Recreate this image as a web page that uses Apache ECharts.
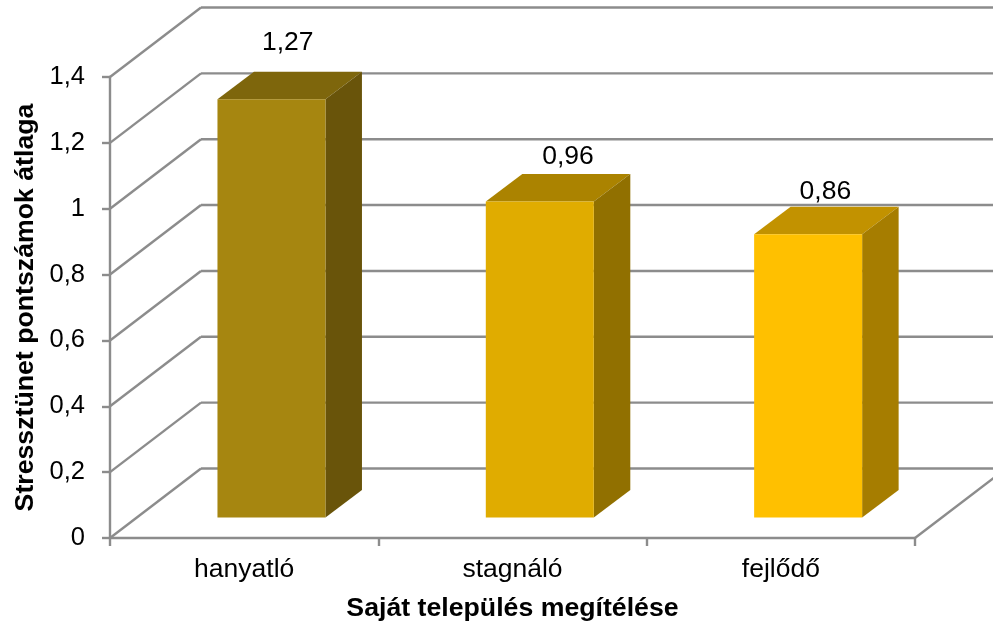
<!DOCTYPE html>
<html><head><meta charset="utf-8">
<style>html,body{margin:0;padding:0;background:#fff}#c{width:993px;height:621px}</style>
<script src="https://cdn.jsdelivr.net/npm/echarts@6/dist/echarts.min.js"></script>
</head><body><div id="c"></div>
<script>
const categories = ['hanyatló', 'stagnáló', 'fejlődő'];
const values = [1.27, 0.96, 0.86];
const yTicks = [0, 0.2, 0.4, 0.6, 0.8, 1, 1.2, 1.4];
const yTitle = 'Stressztünet pontszámok átlaga';
const xTitle = 'Saját település megítélése';

const frontColors = ['#A68610', '#E0AC00', '#FFC000'];
const topColors   = ['#7E660C', '#AB8300', '#C29200'];
const sideColors  = ['#69540A', '#917000', '#A67D00'];
const labelNudge  = [[-2, -11], [10, 1], [-1, 3]];
const GRID = '#8C8C8C', INK = '#000', FONT = '"Liberation Sans", Arial, sans-serif';
const WALL = [91, -69.5], BAR_OFF = [27.3, -20.5], BAR_DEPTH = [36.5, -27.5], BAR_W = 108;
const LW = 2.4;

const chart = echarts.init(document.getElementById('c'), null, {renderer: 'canvas'});
const line = (x1, y1, x2, y2) => ({type: 'line', shape: {x1, y1, x2, y2}, style: {stroke: GRID, lineWidth: LW}, silent: true});
const poly = (points, fill) => ({type: 'polygon', shape: {points}, style: {fill}, silent: true});

chart.setOption({
  animation: false,
  backgroundColor: '#fff',
  grid: {left: 110, right: 78, top: 77, bottom: 83, containLabel: false, outerBoundsMode: 'none'},
  xAxis: {
    type: 'category', data: categories, boundaryGap: true,
    name: xTitle, nameLocation: 'middle', nameGap: 57,
    nameTextStyle: {fontFamily: FONT, fontSize: 26.7, fontWeight: 'bold', color: INK},
    axisLine: {lineStyle: {color: GRID, width: LW}},
    axisTick: {show: true, alignWithLabel: false, length: 8, lineStyle: {color: GRID, width: LW}},
    axisLabel: {fontFamily: FONT, fontSize: 26.5, color: INK, margin: 18, interval: 0}
  },
  yAxis: {
    type: 'value', min: 0, max: 1.4, interval: 0.2,
    name: yTitle, nameLocation: 'middle', nameGap: 71, nameRotate: 90,
    nameTextStyle: {fontFamily: FONT, fontSize: 26.7, fontWeight: 'bold', color: INK},
    axisLine: {show: true, lineStyle: {color: GRID, width: LW}},
    axisTick: {show: true, length: 8, lineStyle: {color: GRID, width: LW}},
    splitLine: {show: false},
    axisLabel: {fontFamily: FONT, fontSize: 25.5, color: INK, margin: 25, padding: [3, 0, 0, 0],
      formatter: v => String(v).replace('.', ',')}
  },
  series: [
    {
      type: 'custom', coordinateSystem: 'cartesian2d', clip: false, z: 1,
      data: yTicks.map(v => [0, v]),
      renderItem(params, api) {
        const v = api.value(1);
        const a = api.coord([0, v]);
        const left = params.coordSys.x, right = left + params.coordSys.width;
        const kids = [
          line(left, a[1], left + WALL[0], a[1] + WALL[1]),
          line(left + WALL[0], a[1] + WALL[1], right + WALL[0], a[1] + WALL[1])
        ];
        if (v === 0) kids.push(line(right, a[1], right + WALL[0], a[1] + WALL[1]));
        return {type: 'group', children: kids};
      }
    },
    {
      type: 'custom', coordinateSystem: 'cartesian2d', clip: false, z: 3,
      data: values.map((v, i) => [i, v]),
      encode: {x: 0, y: 1},
      renderItem(params, api) {
        const i = api.value(0), v = api.value(1);
        const cx = api.coord([i, 0])[0] + BAR_OFF[0];
        const y0 = api.coord([i, 0])[1] + BAR_OFF[1];
        const y1 = api.coord([i, v])[1] + BAR_OFF[1];
        const l = cx - BAR_W / 2, r = cx + BAR_W / 2;
        const dx = BAR_DEPTH[0], dy = BAR_DEPTH[1];
        return {type: 'group', children: [
          poly([[l, y1], [r, y1], [r + dx, y1 + dy], [l + dx, y1 + dy]], topColors[i]),
          poly([[r, y1], [r + dx, y1 + dy], [r + dx, y0 + dy], [r, y0]], sideColors[i]),
          poly([[l, y1], [r, y1], [r, y0], [l, y0]], frontColors[i]),
          {type: 'text', silent: true, style: {
            text: String(v).replace('.', ','),
            x: cx + dx / 2 + labelNudge[i][0], y: y1 + dy - 18 + labelNudge[i][1],
            align: 'center', verticalAlign: 'middle',
            fontFamily: FONT, fontSize: 26.5, fill: INK
          }}
        ]};
      }
    }
  ]
});
</script></body></html>
